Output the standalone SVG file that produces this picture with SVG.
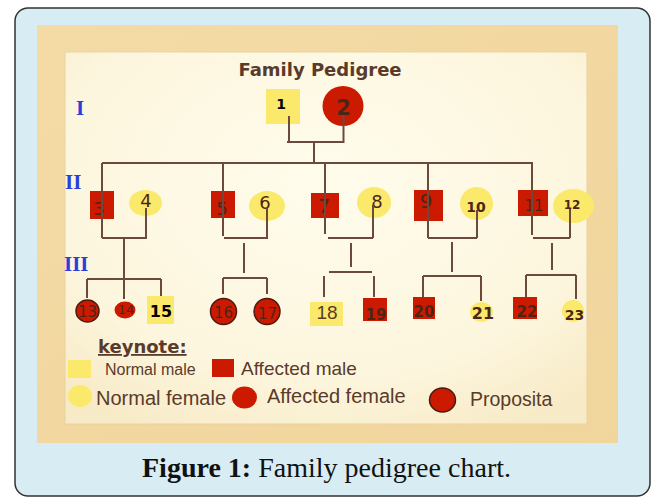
<svg xmlns="http://www.w3.org/2000/svg" width="652" height="497" viewBox="0 0 652 497">
<defs>
<radialGradient id="paper" cx="0.5" cy="0.35" r="0.75">
<stop offset="0" stop-color="#fffcec"/>
<stop offset="0.7" stop-color="#fdf6de"/>
<stop offset="1" stop-color="#f7eac6"/>
</radialGradient>
<linearGradient id="tan" x1="0" y1="0" x2="1" y2="1">
<stop offset="0" stop-color="#f4dba6"/>
<stop offset="0.5" stop-color="#f2d7a0"/>
<stop offset="1" stop-color="#f0d59d"/>
</linearGradient>
</defs>
<style>
.ym{fill:#fbe96b}
.rm{fill:#cc1a00}
.pr{fill:#cc1a00;stroke:#4a1a10;stroke-width:1.5}
.n{font-family:"DejaVu Sans",Verdana,sans-serif;fill:#4d2517;text-anchor:middle}
.b{font-weight:bold}
.gen{font-family:"Liberation Serif","Times New Roman",serif;font-weight:bold;fill:#2b3fd8;font-size:21px}
.lg{font-family:"Liberation Sans",Arial,sans-serif;fill:#5a3a2a}
.ln{stroke:#6b4a3c;stroke-width:2;fill:none}
</style>
<rect x="15" y="8" width="635" height="488" rx="13" fill="#d7edf3" stroke="#333" stroke-width="1.5"/>
<rect x="37" y="25" width="581" height="418" fill="url(#tan)"/>
<rect x="65" y="52" width="522" height="372" fill="url(#paper)" stroke="#e8d3a3" stroke-width="1"/>
<text x="320" y="76" font-family="DejaVu Sans,Verdana,sans-serif" font-weight="bold" font-size="18" fill="#5a3a2a" text-anchor="middle">Family Pedigree</text>
<text class="gen" x="76" y="115">I</text>
<text class="gen" x="65" y="189">II</text>
<text class="gen" x="64" y="271">III</text>

<g id="n1"><rect class="ym" x="266" y="89" width="34" height="35"/><text class="n b" x="281" y="109" font-size="14" style="fill:#000">1</text></g>
<g id="n2"><ellipse class="rm" cx="343" cy="106" rx="20.5" ry="20"/><text class="n b" x="343.5" y="115" font-size="21">2</text></g>

<g id="n3"><rect class="rm" x="90" y="191" width="24" height="28"/><text class="n" x="99" y="215" font-size="18">3</text></g>
<g id="n4"><ellipse class="ym" cx="145.5" cy="203" rx="16.5" ry="13"/><text class="n" x="146" y="207" font-size="18">4</text></g>
<g id="n5"><rect class="rm" x="211" y="191" width="24" height="27"/><text class="n" x="222" y="215" font-size="18">5</text></g>
<g id="n6"><ellipse class="ym" cx="267" cy="206" rx="18" ry="15"/><text class="n" x="265" y="209" font-size="18">6</text></g>
<g id="n7"><rect class="rm" x="311" y="193" width="28" height="25"/><text class="n" x="324" y="213" font-size="19">7</text></g>
<g id="n8"><ellipse class="ym" cx="374" cy="202.5" rx="17" ry="15.5"/><text class="n" x="377" y="208" font-size="18">8</text></g>
<g id="n9"><rect class="rm" x="414" y="190" width="29" height="31"/><text class="n" x="426" y="208" font-size="20">9</text></g>
<g id="n10"><ellipse class="ym" cx="476.5" cy="203.5" rx="16.5" ry="16.5"/><text class="n b" x="476" y="212" font-size="14">10</text></g>
<g id="n11"><rect class="rm" x="518" y="190" width="30" height="26"/><text class="n" x="534" y="211" font-size="15">11</text></g>
<g id="n12"><ellipse class="ym" cx="573.5" cy="206" rx="20.5" ry="17"/><text class="n b" x="572" y="209" font-size="12">12</text></g>

<g id="n13"><ellipse class="pr" cx="87.5" cy="311" rx="11.5" ry="11"/><text class="n" x="87.5" y="317" font-size="15">13</text></g>
<g id="n14"><ellipse class="rm" cx="125" cy="310" rx="10.5" ry="8.5"/><text class="n" x="126" y="314" font-size="13">14</text></g>
<g id="n15"><rect class="ym" x="147" y="296" width="27" height="28"/><text class="n b" x="161" y="317" font-size="16" style="fill:#000">15</text></g>
<g id="n16"><circle class="pr" cx="223.5" cy="311.5" r="13"/><text class="n" x="223.5" y="318" font-size="15">16</text></g>
<g id="n17"><circle class="pr" cx="267" cy="311.5" r="13"/><text class="n" x="267.5" y="319" font-size="15">17</text></g>
<g id="n18"><rect class="ym" x="310" y="302" width="33" height="24"/><text class="lg" x="327" y="319" font-size="19" text-anchor="middle">18</text></g>
<g id="n19"><rect class="rm" x="363" y="298" width="24" height="23"/><text class="n b" x="376" y="320" font-size="15">19</text></g>
<g id="n20"><rect class="rm" x="413" y="297" width="22" height="22"/><text class="n b" x="424" y="317" font-size="15">20</text></g>
<g id="n21"><ellipse class="ym" cx="481.5" cy="312" rx="11.5" ry="10"/><text class="n b" x="483" y="319" font-size="16">21</text></g>
<g id="n22"><rect class="rm" x="513" y="297" width="24" height="22"/><text class="n b" x="527" y="317" font-size="15">22</text></g>
<g id="n23"><circle class="ym" cx="573" cy="311" r="11"/><text class="n b" x="574.5" y="320" font-size="14">23</text></g>

<g id="connectors" class="ln">
<path d="M289 116V142M343.5 115V142M287 142H344.5M314 142V163"/>
<path d="M102 163H533M102 163V238M223 163V236M325 163V234M428 163V238M532 163V235"/>
<path d="M146 208V238M102 238H147M124 238V279M87 279H161M87 279V298M124 279V299M161 279V296"/>
<path d="M267 208V238M224 238H268M244 243V273M223 278H267M223 278V294M267 278V294"/>
<path d="M373 205V238M328 238H373M351 243V267M329 272H372M324 276V297M374 276V297"/>
<path d="M477 210V238M428 238H477M452 242V272M423 276H481M423 276V297M481 276V301"/>
<path d="M570 209V238M533 238H570M552 243V270M526 275H576M526 275V297M576 275V299"/>
</g>

<g id="legend">
<text x="98" y="353" font-family="DejaVu Sans,Verdana,sans-serif" font-weight="bold" font-size="18" fill="#5a3a2a" text-decoration="underline">keynote:</text>
<rect class="ym" x="68" y="360" width="23" height="18"/>
<text class="lg" x="105" y="375" font-size="16">Normal male</text>
<rect class="rm" x="212" y="359" width="22" height="18"/>
<text class="lg" x="241" y="375" font-size="19">Affected male</text>
<ellipse class="ym" cx="80" cy="396" rx="12" ry="11"/>
<text class="lg" x="96" y="405" font-size="20">Normal female</text>
<ellipse class="rm" cx="244.5" cy="397.5" rx="12.5" ry="11"/>
<text class="lg" x="267" y="403" font-size="20">Affected female</text>
<ellipse class="pr" cx="442.5" cy="400" rx="13" ry="12"/>
<text class="lg" x="470" y="406" font-size="19.5">Proposita</text>
</g>

<text x="142" y="477" font-family="Liberation Serif,Times New Roman,serif" font-size="28" fill="#111" textLength="369" lengthAdjust="spacing"><tspan font-weight="bold">Figure 1:</tspan> Family pedigree chart.</text>
</svg>
